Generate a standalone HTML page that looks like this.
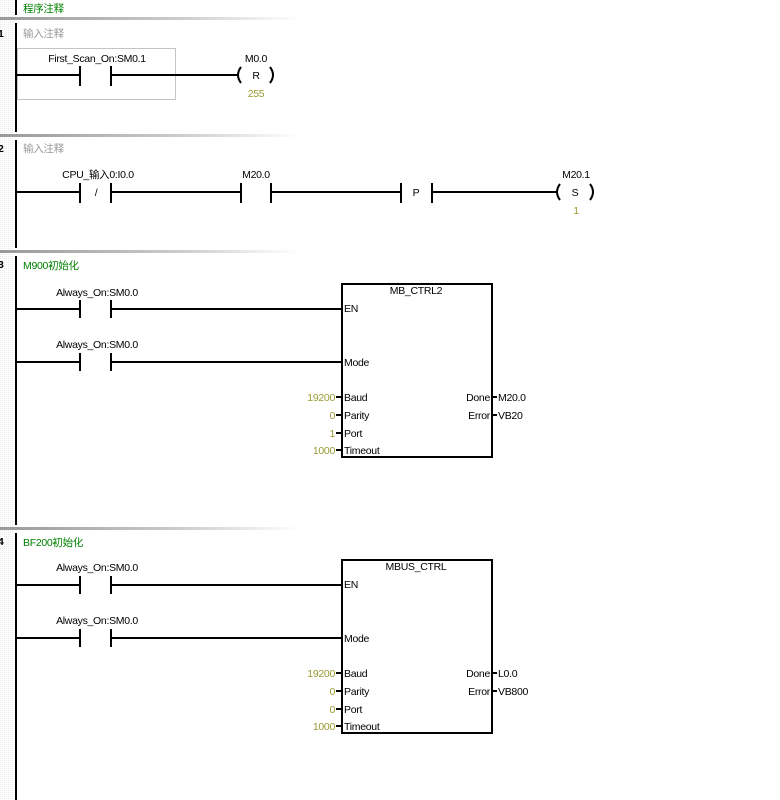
<!DOCTYPE html>
<html><head><meta charset="utf-8"><style>
html,body{margin:0;padding:0;background:#fff;width:780px;height:800px;overflow:hidden}
svg{display:block}
text{font-family:"Liberation Sans","Noto Sans CJK SC",sans-serif;font-size:10.5px;letter-spacing:-0.3px}
</style></head><body>
<svg width="780" height="800" viewBox="0 0 780 800" xmlns="http://www.w3.org/2000/svg">
<defs>
<linearGradient id="sep" x1="0" x2="1"><stop offset="0" stop-color="#999"/><stop offset="0.6" stop-color="#ccc"/><stop offset="1" stop-color="#fff"/></linearGradient>
<pattern id="dots" width="2" height="2" patternUnits="userSpaceOnUse"><rect width="1" height="1" fill="#ccc"/></pattern>
</defs>
<rect x="0" y="0" width="13" height="800" fill="url(#dots)" opacity="0.4"/>
<rect x="0" y="17" width="300" height="3" fill="url(#sep)"/>
<rect x="0" y="134" width="300" height="3" fill="url(#sep)"/>
<rect x="0" y="250" width="300" height="3" fill="url(#sep)"/>
<rect x="0" y="527" width="300" height="3" fill="url(#sep)"/>
<g stroke="#000" stroke-width="2">
<line x1="16" y1="0" x2="16" y2="15"/>
<line x1="16" y1="23" x2="16" y2="132"/>
<line x1="16" y1="140" x2="16" y2="248"/>
<line x1="16" y1="256" x2="16" y2="525"/>
<line x1="16" y1="533" x2="16" y2="800"/>
</g>
<text x="23" y="12" fill="#008000">程序注释</text>
<!-- Network 1 -->
<text x="-2" y="37" fill="#000" font-weight="bold">1</text>
<text x="23" y="37" fill="#999">输入注释</text>
<rect x="17.5" y="48.5" width="158" height="51" fill="none" stroke="#888" stroke-dasharray="1,1"/>
<text x="97" y="62" text-anchor="middle">First_Scan_On:SM0.1</text>
<g stroke="#000" stroke-width="2" fill="none">
<line x1="17" y1="75" x2="80" y2="75"/><line x1="80" y1="66" x2="80" y2="86"/>
<line x1="111" y1="66" x2="111" y2="86"/><line x1="111" y1="75" x2="237" y2="75"/>
<path d="M241 67 Q235 75 241 83"/><path d="M270 67 Q276 75 270 83"/>
</g>
<text x="256" y="62" text-anchor="middle">M0.0</text>
<text x="256" y="79" text-anchor="middle" font-size="10">R</text>
<text x="256" y="97" text-anchor="middle" fill="#999933">255</text>
<!-- Network 2 -->
<text x="-2" y="152" font-weight="bold">2</text>
<text x="23" y="152" fill="#999">输入注释</text>
<text x="98" y="178" text-anchor="middle">CPU_输入0:I0.0</text>
<text x="256" y="178" text-anchor="middle">M20.0</text>
<text x="576" y="178" text-anchor="middle">M20.1</text>
<g stroke="#000" stroke-width="2" fill="none">
<line x1="17" y1="192" x2="80" y2="192"/><line x1="80" y1="183" x2="80" y2="203"/>
<line x1="111" y1="183" x2="111" y2="203"/><line x1="111" y1="192" x2="241" y2="192"/>
<line x1="241" y1="183" x2="241" y2="203"/><line x1="271" y1="183" x2="271" y2="203"/>
<line x1="271" y1="192" x2="401" y2="192"/><line x1="401" y1="183" x2="401" y2="203"/>
<line x1="432" y1="183" x2="432" y2="203"/><line x1="432" y1="192" x2="556" y2="192"/>
<path d="M560 184 Q554 192 560 200"/><path d="M590 184 Q596 192 590 200"/>
</g>
<text x="96" y="196" text-anchor="middle" font-size="10">/</text>
<text x="416" y="196" text-anchor="middle" font-size="10">P</text>
<text x="575" y="196" text-anchor="middle" font-size="10">S</text>
<text x="576" y="214" text-anchor="middle" fill="#999933">1</text>
<!-- Network 3 -->
<text x="-2" y="268" font-weight="bold">3</text>
<text x="23" y="269" fill="#008000">M900初始化</text>
<text x="97" y="296" text-anchor="middle">Always_On:SM0.0</text>
<text x="97" y="348" text-anchor="middle">Always_On:SM0.0</text>
<g stroke="#000" stroke-width="2" fill="none">
<line x1="17" y1="309" x2="80" y2="309"/><line x1="80" y1="300" x2="80" y2="318"/>
<line x1="111" y1="300" x2="111" y2="318"/><line x1="111" y1="309" x2="342" y2="309"/>
<line x1="17" y1="362" x2="80" y2="362"/><line x1="80" y1="353" x2="80" y2="371"/>
<line x1="111" y1="353" x2="111" y2="371"/><line x1="111" y1="362" x2="342" y2="362"/>
<rect x="342" y="284" width="150" height="173"/>
<line x1="336" y1="397" x2="342" y2="397"/><line x1="336" y1="415" x2="342" y2="415"/>
<line x1="336" y1="433" x2="342" y2="433"/><line x1="336" y1="450" x2="342" y2="450"/>
<line x1="492" y1="397" x2="497" y2="397"/><line x1="492" y1="415" x2="497" y2="415"/>
</g>
<text x="416" y="294" text-anchor="middle">MB_CTRL2</text>
<text x="344" y="312">EN</text>
<text x="344" y="366">Mode</text>
<text x="344" y="401">Baud</text><text x="344" y="419">Parity</text><text x="344" y="437">Port</text><text x="344" y="454">Timeout</text>
<g fill="#999933" text-anchor="end"><text x="335" y="401">19200</text><text x="335" y="419">0</text><text x="335" y="437">1</text><text x="335" y="454">1000</text></g>
<text x="490" y="401" text-anchor="end">Done</text><text x="490" y="419" text-anchor="end">Error</text>
<text x="498" y="401">M20.0</text><text x="498" y="419">VB20</text>
<!-- Network 4 -->
<text x="-2" y="545" font-weight="bold">4</text>
<text x="23" y="546" fill="#008000">BF200初始化</text>
<text x="97" y="571" text-anchor="middle">Always_On:SM0.0</text>
<text x="97" y="624" text-anchor="middle">Always_On:SM0.0</text>
<g stroke="#000" stroke-width="2" fill="none">
<line x1="17" y1="585" x2="80" y2="585"/><line x1="80" y1="576" x2="80" y2="594"/>
<line x1="111" y1="576" x2="111" y2="594"/><line x1="111" y1="585" x2="342" y2="585"/>
<line x1="17" y1="638" x2="80" y2="638"/><line x1="80" y1="629" x2="80" y2="647"/>
<line x1="111" y1="629" x2="111" y2="647"/><line x1="111" y1="638" x2="342" y2="638"/>
<rect x="342" y="560" width="150" height="173"/>
<line x1="336" y1="673" x2="342" y2="673"/><line x1="336" y1="691" x2="342" y2="691"/>
<line x1="336" y1="709" x2="342" y2="709"/><line x1="336" y1="726" x2="342" y2="726"/>
<line x1="492" y1="673" x2="497" y2="673"/><line x1="492" y1="691" x2="497" y2="691"/>
</g>
<text x="416" y="570" text-anchor="middle">MBUS_CTRL</text>
<text x="344" y="588">EN</text>
<text x="344" y="642">Mode</text>
<text x="344" y="677">Baud</text><text x="344" y="695">Parity</text><text x="344" y="713">Port</text><text x="344" y="730">Timeout</text>
<g fill="#999933" text-anchor="end"><text x="335" y="677">19200</text><text x="335" y="695">0</text><text x="335" y="713">0</text><text x="335" y="730">1000</text></g>
<text x="490" y="677" text-anchor="end">Done</text><text x="490" y="695" text-anchor="end">Error</text>
<text x="498" y="677">L0.0</text><text x="498" y="695">VB800</text>
</svg>
</body></html>
